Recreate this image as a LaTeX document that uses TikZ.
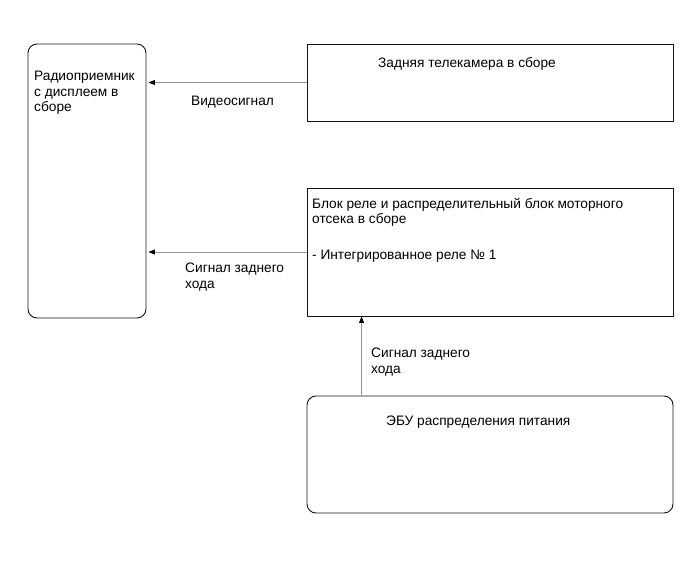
\documentclass[tikz,border=0pt]{standalone}
\usepackage{fontspec}
\setmainfont{Liberation Sans}
\usetikzlibrary{arrows.meta,positioning,calc}
\definecolor{framegray}{RGB}{20,20,20}
\definecolor{wiregray}{RGB}{150,150,150}

\begin{document}
\begin{tikzpicture}[
    x=1pt, y=-1pt,
    every node/.style={font=\fontsize{13.7}{15.5}\selectfont},
    unitbox/.style={rectangle, draw=framegray, line width=0.9pt, inner sep=0pt},
    roundbox/.style={unitbox, rounded corners=9pt},
    lbl/.style={anchor=base west, inner sep=0pt, align=left},
    wire/.style={draw=wiregray, line width=0.8pt, -{Triangle[length=6.5pt,width=5pt,black]}}
]
    \useasboundingbox (0,0) rectangle (691,564);

    % units
    \node (radio) [roundbox, minimum width=118pt, minimum height=274pt] at (87,181) {};
    \node (cam) [unitbox, minimum width=366pt, minimum height=77pt] at (490,82.5) {};
    \node (relay) [unitbox, minimum width=366pt, minimum height=128pt] at (490,252) {};
    \node (ecu) [roundbox, minimum width=366pt, minimum height=117pt] at (490,454.5) {};

    % unit texts (base = last line)
    \node (radiotxt) [lbl] at (34,112) {Радиоприемник\\с дисплеем в\\сборе};
    \node (camtxt) [lbl] at (378,68) {Задняя телекамера в сборе};
    \node (relaytxt) [lbl] at (312,224) {Блок реле и распределительный блок моторного\\отсека в сборе};
    \node (relaysub) [lbl] at (312,260) {- Интегрированное реле № 1};
    \node (ecutxt) [lbl] at (386,425) {ЭБУ распределения питания};

    % signals
    \draw[wire] (cam.west) -- ($(cam.west -| radio.east)+(2,0)$);
    \draw[wire] (relay.west) -- ($(relay.west -| radio.east)+(2,0)$);
    \coordinate (ecuout) at ($(ecu.north west)+(55,0)$);
    \draw[wire] (ecuout) -- (ecuout |- relay.south);

    \node (videolbl) [lbl] at (191,106) {Видеосигнал};
    \node (revlbl) [lbl] at (185,288) {Сигнал заднего\\хода};
    \node (ecurevlbl) [lbl] at (371,373) {Сигнал заднего\\хода};

\end{tikzpicture}
\end{document}
